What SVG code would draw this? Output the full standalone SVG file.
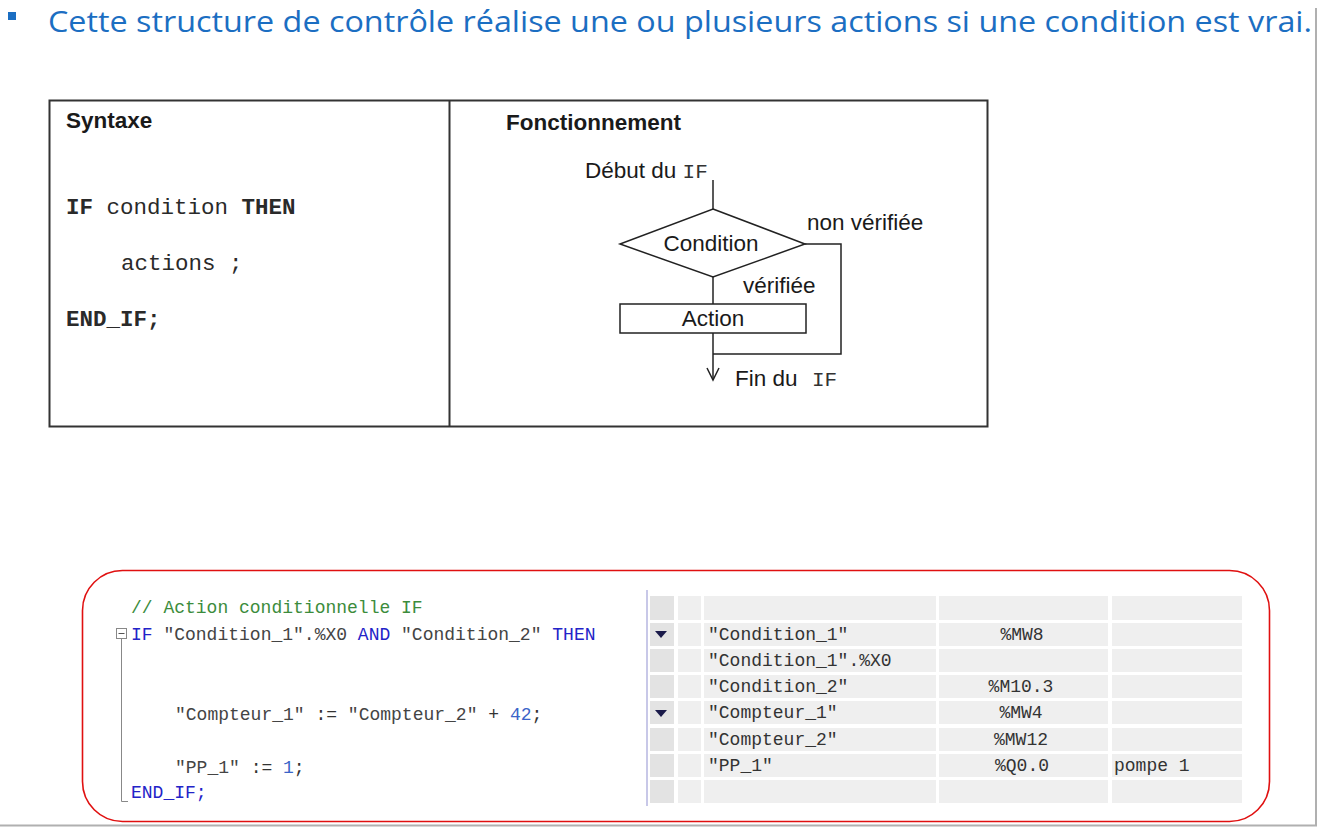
<svg xmlns="http://www.w3.org/2000/svg" width="1320" height="827" viewBox="0 0 1320 827">
<style>
.title{font-family:"Open Sans","Liberation Sans",sans-serif;font-size:30px;fill:#1b6ec2}
.sans{font-family:"Liberation Sans",Arial,sans-serif;font-size:22.5px;fill:#1a1a1a}
.bold{font-weight:bold}
.mono{font-family:"Liberation Mono","Courier New",monospace}
.syn{font-size:22.5px;fill:#2a2a2a}
.code{font-family:"Liberation Mono","Courier New",monospace;font-size:18px;fill:#444}
.kw{fill:#2323c8}
.num{fill:#3a64c8}
.cmt{fill:#3c8c3c}
.op{fill:#333}
.line{stroke:#222;stroke-width:1.5;fill:none}
.cell{fill:#efefef}
.cellA{fill:#e3e3e3}
.tab{font-family:"Liberation Mono","Courier New",monospace;font-size:18px;fill:#333}
</style>
<rect x="0" y="0" width="1320" height="827" fill="#ffffff"/>
<line x1="1316" y1="8" x2="1316" y2="826" stroke="#b0b0b0" stroke-width="2"/>
<line x1="0" y1="825.5" x2="1317" y2="825.5" stroke="#b0b0b0" stroke-width="2"/>

<g id="title">
<rect x="8" y="12" width="8" height="8" fill="#1b6ec2"/>
<text class="title" x="48" y="32" textLength="1264" lengthAdjust="spacingAndGlyphs">Cette structure de contrôle réalise une ou plusieurs actions si une condition est vrai.</text>
</g>

<g id="syntax-table">
<rect x="49.5" y="100.5" width="938" height="326" fill="#ffffff" stroke="#333" stroke-width="2"/>
<line x1="449.5" y1="100.5" x2="449.5" y2="426.5" stroke="#333" stroke-width="2"/>
<text class="sans bold" x="66" y="128">Syntaxe</text>
<text class="sans bold" x="506" y="130">Fonctionnement</text>
<text class="mono syn" x="66" y="214" xml:space="preserve"><tspan font-weight="bold">IF</tspan> condition <tspan font-weight="bold">THEN</tspan></text>
<text class="mono syn" x="121" y="270">actions ;</text>
<text class="mono syn bold" x="66" y="326">END_IF;</text>
</g>

<g id="flow-connectors">
<path class="line" d="M713,180 V209"/>
<path class="line" d="M805,244 H841 V354 H713"/>
<path class="line" d="M713,277 V304"/>
<path class="line" d="M713,333 V380"/>
<path class="line" d="M707,368 L713,380 L719,368"/>
</g>

<g id="node-start">
<text class="sans" x="585" y="178">Début du <tspan class="mono" font-size="21px" fill="#333">IF</tspan></text>
</g>
<g id="node-condition">
<polygon class="line" points="713,209 805,244 713,277 620,244" fill="#fff"/>
<text class="sans" x="711" y="251" text-anchor="middle">Condition</text>
</g>
<g id="label-non">
<text class="sans" x="807" y="230">non vérifiée</text>
</g>
<g id="label-oui">
<text class="sans" x="743" y="293">vérifiée</text>
</g>
<g id="node-action">
<rect class="line" x="620" y="304" width="186" height="29" fill="#fff"/>
<text class="sans" x="713" y="326" text-anchor="middle">Action</text>
</g>
<g id="node-end">
<text class="sans" x="735" y="386">Fin du <tspan class="mono" x="812" font-size="21px" fill="#333">IF</tspan></text>
</g>

<g id="example">
<rect x="82.5" y="570.5" width="1187" height="251" rx="40" ry="40" fill="#ffffff" stroke="#e01010" stroke-width="1.6"/>
<g id="code">
<text class="code cmt" x="131" y="613">// Action conditionnelle IF</text>
<rect x="116.5" y="628.5" width="10" height="10" fill="#fff" stroke="#888" stroke-width="1"/>
<line x1="118.5" y1="633.5" x2="124.5" y2="633.5" stroke="#555" stroke-width="1"/>
<path d="M121.5,639 V801.5 H128" fill="none" stroke="#888" stroke-width="1"/>
<text class="code" x="131" y="640" xml:space="preserve"><tspan class="kw">IF</tspan> "Condition_1".%X0 <tspan class="kw">AND</tspan> "Condition_2" <tspan class="kw">THEN</tspan></text>
<text class="code" x="175" y="720" xml:space="preserve">"Compteur_1" <tspan class="op">:=</tspan> "Compteur_2" <tspan class="op">+</tspan> <tspan class="num">42</tspan><tspan class="op">;</tspan></text>
<text class="code" x="175" y="773" xml:space="preserve">"PP_1" <tspan class="op">:=</tspan> <tspan class="num">1</tspan><tspan class="op">;</tspan></text>
<text class="code kw" x="131" y="798">END_IF;</text>
</g>
<g id="tags-table">
<line x1="647" y1="590" x2="647" y2="806" stroke="#c8c8e8" stroke-width="2"/>
<g id="row0"><rect class="cellA" x="650" y="596" width="24" height="24"/><rect class="cell" x="678" y="596" width="23" height="24"/><rect class="cell" x="704" y="596" width="232" height="24"/><rect class="cell" x="939" y="596" width="169" height="24"/><rect class="cell" x="1112" y="596" width="130" height="24"/></g>
<g id="row1"><rect class="cellA" x="650" y="623" width="24" height="23"/><rect class="cell" x="678" y="623" width="23" height="23"/><rect class="cell" x="704" y="623" width="232" height="23"/><rect class="cell" x="939" y="623" width="169" height="23"/><rect class="cell" x="1112" y="623" width="130" height="23"/></g>
<g id="row2"><rect class="cellA" x="650" y="649" width="24" height="23"/><rect class="cell" x="678" y="649" width="23" height="23"/><rect class="cell" x="704" y="649" width="232" height="23"/><rect class="cell" x="939" y="649" width="169" height="23"/><rect class="cell" x="1112" y="649" width="130" height="23"/></g>
<g id="row3"><rect class="cellA" x="650" y="675" width="24" height="23"/><rect class="cell" x="678" y="675" width="23" height="23"/><rect class="cell" x="704" y="675" width="232" height="23"/><rect class="cell" x="939" y="675" width="169" height="23"/><rect class="cell" x="1112" y="675" width="130" height="23"/></g>
<g id="row4"><rect class="cellA" x="650" y="701" width="24" height="23"/><rect class="cell" x="678" y="701" width="23" height="23"/><rect class="cell" x="704" y="701" width="232" height="23"/><rect class="cell" x="939" y="701" width="169" height="23"/><rect class="cell" x="1112" y="701" width="130" height="23"/></g>
<g id="row5"><rect class="cellA" x="650" y="728" width="24" height="23"/><rect class="cell" x="678" y="728" width="23" height="23"/><rect class="cell" x="704" y="728" width="232" height="23"/><rect class="cell" x="939" y="728" width="169" height="23"/><rect class="cell" x="1112" y="728" width="130" height="23"/></g>
<g id="row6"><rect class="cellA" x="650" y="754" width="24" height="23"/><rect class="cell" x="678" y="754" width="23" height="23"/><rect class="cell" x="704" y="754" width="232" height="23"/><rect class="cell" x="939" y="754" width="169" height="23"/><rect class="cell" x="1112" y="754" width="130" height="23"/></g>
<g id="row7"><rect class="cellA" x="650" y="780" width="24" height="23"/><rect class="cell" x="678" y="780" width="23" height="23"/><rect class="cell" x="704" y="780" width="232" height="23"/><rect class="cell" x="939" y="780" width="169" height="23"/><rect class="cell" x="1112" y="780" width="130" height="23"/></g>
<polygon points="655,631 667,631 661,638" fill="#1a1a4a"/>
<polygon points="655,710 667,710 661,717" fill="#1a1a4a"/>
<text class="tab" x="708" y="640">"Condition_1"</text>
<text class="tab" x="708" y="666">"Condition_1".%X0</text>
<text class="tab" x="708" y="692">"Condition_2"</text>
<text class="tab" x="708" y="718">"Compteur_1"</text>
<text class="tab" x="708" y="745">"Compteur_2"</text>
<text class="tab" x="708" y="771">"PP_1"</text>
<text class="tab" x="1022" y="640" text-anchor="middle">%MW8</text>
<text class="tab" x="1021" y="692" text-anchor="middle">%M10.3</text>
<text class="tab" x="1021" y="718" text-anchor="middle">%MW4</text>
<text class="tab" x="1021" y="745" text-anchor="middle">%MW12</text>
<text class="tab" x="1022" y="771" text-anchor="middle">%Q0.0</text>
<text class="tab" x="1114" y="771">pompe 1</text>
</g>
</g>
</svg>
